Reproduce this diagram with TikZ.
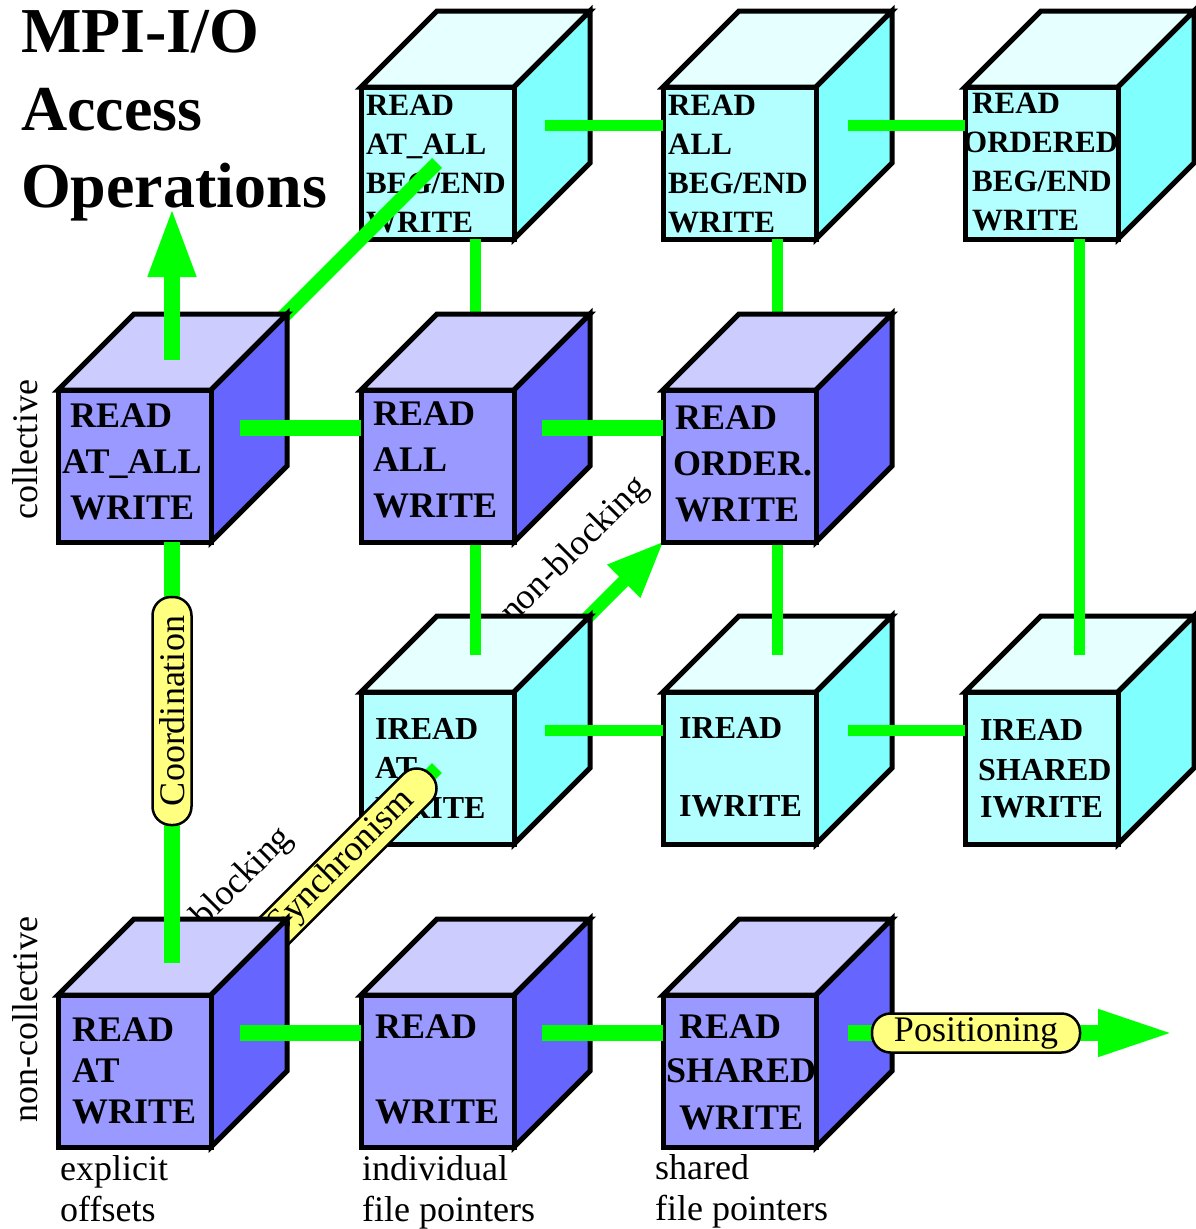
\documentclass[tikz,border=0pt]{standalone}
\usepackage{fontspec}
\setmainfont{Liberation Serif}
\usetikzlibrary{calc,arrows.meta}

\definecolor{bluefront}{HTML}{9999FF}
\definecolor{bluetop}{HTML}{CCCCFF}
\definecolor{blueside}{HTML}{6666FF}
\definecolor{cyanfront}{HTML}{B3FFFF}
\definecolor{cyantop}{HTML}{E6FFFF}
\definecolor{cyanside}{HTML}{80FFFF}
\definecolor{axisgreen}{HTML}{00FF00}
\definecolor{pillyellow}{HTML}{FFFF80}

\tikzset{
  facebox/.style={draw=black, line width=5pt, minimum width=153pt, minimum height=152pt,
    inner sep=0pt, outer sep=0pt, anchor=north west},
  cubeedge/.style={draw=black, line width=5pt},
  optext/.style={inner sep=0pt, anchor=base west, font=\fontsize{36}{36}\selectfont\bfseries},
  optextsmall/.style={inner sep=0pt, anchor=base west, font=\fontsize{31}{31}\selectfont\bfseries},
  optextmid/.style={inner sep=0pt, anchor=base west, font=\fontsize{32}{32}\selectfont\bfseries},
  plaintext/.style={inner sep=0pt, font=\fontsize{36}{36}\selectfont},
  titletext/.style={inner sep=0pt, anchor=base west, font=\fontsize{64}{64}\selectfont\bfseries},
  frontaxis/.style={draw=axisgreen, line width=16pt},
  backaxis/.style={draw=axisgreen, line width=11pt},
  diagaxis/.style={draw=axisgreen, line width=14pt},
  pill/.style={draw=black, line width=2.5pt, fill=pillyellow, rounded corners=18.5pt,
    minimum height=39pt, inner sep=0pt, font=\fontsize{36}{36}\selectfont},
}

% cube: #1 name, #2/#3 top left corner of the front face, #4 palette (blue or cyan)
\newcommand\opcube[4]{%
  \path[cubeedge, fill=#4top] (#2,#3) -- ++(76,-76) -- ++(153,0) -- ++(-76,76) -- cycle;
  \path[cubeedge, fill=#4side] (#2+153,#3) -- ++(76,-76) -- ++(0,152) -- ++(-76,76) -- cycle;
  \node[facebox, fill=#4front] (#1) at (#2,#3) {};
}
% text lines on a front face: #1 cube name, #2 text style, #3 list dx/dy/text
\newcommand\oplines[3]{%
  \foreach \dx/\dy/\txt [count=\k] in {#3}
    \node[#2] (#1-t\k) at ($(#1.north west)+(\dx,\dy)$) {\txt};
}

\begin{document}
\begin{tikzpicture}[x=1pt,y=-1pt]
\fill[white] (0,0) rectangle (1195,1229);
\useasboundingbox (0,0) rectangle (1195,1229);

% centres of the cubes
\foreach \n/\x/\y in {b00/58/995, b10/361/995, b20/663/995,
                      b01/58/390, b11/361/390, b21/663/390,
                      c10/361/87, c20/663/87, c30/965/87,
                      c11/361/692, c21/663/692, c31/965/692}
  \coordinate (\n-c) at (\x+114,\y+38);

% synchronism axis, far end
\node[plaintext, rotate=45] (nblk) at (575,551) {non-blocking};
\draw[draw=axisgreen, line width=13pt, -{Triangle[length=57pt,width=43pt]}]
  (c11-c) -- ($(c11-c)+(189,-189)$);

% non-blocking cubes
\opcube{c10}{361}{87}{cyan}
\oplines{c10}{optextsmall}{5/28/READ, 5/67/AT\_ALL, 5/106/{BEG/END}, 5/145/WRITE}
\opcube{c20}{663}{87}{cyan}
\oplines{c20}{optextsmall}{5/28/READ, 5/67/ALL, 5/106/{BEG/END}, 5/145/WRITE}
\opcube{c30}{965}{87}{cyan}
\oplines{c30}{optextsmall}{7/26/READ, -2/65/ORDERED, 7/104/{BEG/END}, 7/143/WRITE}
\opcube{c11}{361}{692}{cyan}
\oplines{c11}{optextmid}{14/47/IREAD, 14/86/AT, 14/126/WRITE}
\opcube{c21}{663}{692}{cyan}
\oplines{c21}{optextmid}{16/46/IREAD, 16/124/IWRITE}
\opcube{c31}{965}{692}{cyan}
\oplines{c31}{optextmid}{15/48/IREAD, 13/88/SHARED, 15/125/IWRITE}

% connectors between the non-blocking cubes
\draw[backaxis] ($(c10-c)+(70,0)$) -- ($(c20-c)+(-114,0)$);
\draw[backaxis] ($(c20-c)+(71,0)$) -- ($(c30-c)+(-114,0)$);
\draw[backaxis] ($(c11-c)+(70,0)$) -- ($(c21-c)+(-114,0)$);
\draw[backaxis] ($(c21-c)+(71,0)$) -- ($(c31-c)+(-114,0)$);
\draw[backaxis] ($(c10-c)+(0,114)$) -- ($(c11-c)+(0,-75)$);
\draw[backaxis] ($(c20-c)+(0,114)$) -- ($(c21-c)+(0,-75)$);
\draw[backaxis] ($(c30-c)+(0,114)$) -- ($(c31-c)+(0,-75)$);

% blocking to non-blocking
\draw[diagaxis] (b01-c) -- ($(c10-c)+(-38,38)$);
\node[plaintext, rotate=45] (blk) at (243,878) {blocking};
\draw[diagaxis] (b00-c) -- ($(c11-c)+(-38,38)$);
\node[pill, minimum width=250pt, rotate=45] (sync) at (342,863) {Synchronism};

% blocking cubes
\opcube{b00}{58}{995}{blue}
\oplines{b00}{optext}{14/46/READ, 14/87/AT, 14/128/WRITE}
\opcube{b10}{361}{995}{blue}
\oplines{b10}{optext}{14/43/READ, 14/128/WRITE}
\opcube{b20}{663}{995}{blue}
\oplines{b20}{optext}{16/43/READ, 3/87/SHARED, 16/134/WRITE}
\opcube{b01}{58}{390}{blue}
\oplines{b01}{optext}{12/37/READ, 4/83/AT\_ALL, 12/129/WRITE}
\opcube{b11}{361}{390}{blue}
\oplines{b11}{optext}{12/35/READ, 12/81/ALL, 12/127/WRITE}
\opcube{b21}{663}{390}{blue}
\oplines{b21}{optext}{12/39/READ, 10/85/ORDER., 12/131/WRITE}

% connectors between the blocking cubes
\draw[frontaxis] ($(b00-c)+(68,0)$) -- ($(b10-c)+(-114,0)$);
\draw[frontaxis] ($(b10-c)+(67,0)$) -- ($(b20-c)+(-114,0)$);
\draw[frontaxis] ($(b01-c)+(68,0)$) -- ($(b11-c)+(-114,0)$);
\draw[frontaxis] ($(b11-c)+(67,0)$) -- ($(b21-c)+(-114,0)$);

% coordination axis
\draw[frontaxis] ($(b00-c)+(0,-70)$) -- ($(b01-c)+(0,114)$);
\node[pill, minimum width=228pt, rotate=90] (coord) at (172,711) {Coordination};
\draw[frontaxis, -{Triangle[length=70pt,width=44pt]}] ($(b01-c)+(0,-68)$) -- ($(b01-c)+(0,-221)$);

% positioning axis
\draw[frontaxis, -{Triangle[length=76pt,width=43pt]}] ($(b20-c)+(71,0)$) -- ($(b20-c)+(397,0)$);
\node[pill, minimum width=208pt] (pos) at (976,1033) {Positioning};

% axis value labels
\node[plaintext, rotate=90] (collab) at (25,450) {collective};
\node[plaintext, rotate=90] (noncollab) at (25,1020) {non-collective};
\node[plaintext, anchor=base west] (expl1) at (60,1180) {explicit};
\node[plaintext, anchor=base west] (expl2) at (60,1221) {offsets};
\node[plaintext, anchor=base west] (indiv1) at (362,1180) {individual};
\node[plaintext, anchor=base west] (indiv2) at (362,1221) {file pointers};
\node[plaintext, anchor=base west] (shar1) at (655,1179) {shared};
\node[plaintext, anchor=base west] (shar2) at (655,1220) {file pointers};

% title
\node[titletext] (title1) at (21,52) {MPI-I/O};
\node[titletext] (title2) at (21,130) {Access};
\node[titletext] (title3) at (21,207) {Operations};
\end{tikzpicture}
\end{document}
